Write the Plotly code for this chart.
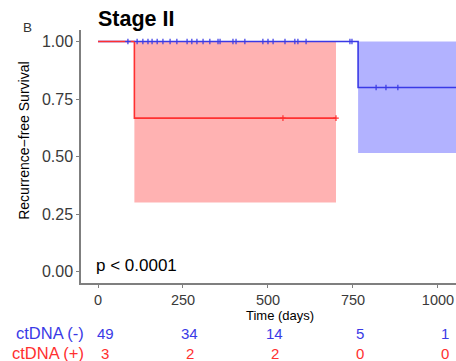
import plotly.graph_objects as go

# ---- data ----
neg_times = [0, 765, 1060]
neg_surv = [1.0, 0.80, 0.80]
neg_lower = [1.0, 0.515, 0.515]
neg_upper = [1.0, 1.0, 1.0]
neg_censor = [88, 115, 132, 147, 159, 174, 191, 212, 232, 262, 276, 291, 309, 329,
              353, 359, 397, 406, 432, 485, 500, 515, 550, 579, 588, 612, 741, 747,
              818, 847, 882]

pos_times = [0, 107, 700]
pos_surv = [1.0, 0.667, 0.667]
pos_lower = [1.0, 0.30, 0.30]
pos_upper = [1.0, 1.0, 1.0]
pos_censor = [544, 700]

risk_times = [0, 250, 500, 750, 1000]
risk_neg = [49, 34, 14, 5, 1]
risk_pos = [3, 2, 2, 0, 0]
x_ticks = [0, 250, 500, 750, 1000]
y_ticks = [0.0, 0.25, 0.50, 0.75, 1.00]
y_ticklabels = ["0.00", "0.25", "0.50", "0.75", "1.00"]

BLUE = "#3a3ae6"
RED = "#ff3030"
BLUE_FILL = "rgba(0,0,255,0.3)"
RED_FILL = "rgba(255,0,0,0.3)"
FONT = "Liberation Sans, Arial, sans-serif"
TICKC = "#3a3a3a"


def step_xy(t, v):
    xs, ys = [], []
    for i in range(len(t)):
        if i > 0:
            xs.append(t[i]); ys.append(v[i - 1])
        xs.append(t[i]); ys.append(v[i])
    return xs, ys


def band(t, lo, hi):
    xu, yu = step_xy(t, hi)
    xl, yl = step_xy(t, lo)
    return xu + xl[::-1], yu + yl[::-1]


def surv_at(t, times, surv):
    s = surv[0]
    for ti, si in zip(times, surv):
        if t >= ti:
            s = si
    return s


fig = go.Figure()

for t, lo, hi, fc in [(neg_times, neg_lower, neg_upper, BLUE_FILL),
                      (pos_times, pos_lower, pos_upper, RED_FILL)]:
    bx, by = band(t, lo, hi)
    fig.add_trace(go.Scatter(x=bx, y=by, fill="toself", fillcolor=fc,
                             line=dict(width=0), mode="lines", hoverinfo="skip",
                             showlegend=False))

fig.add_trace(go.Scatter(x=neg_times, y=neg_surv, mode="lines", line_shape="hv",
                         line=dict(color=BLUE, width=1.6), showlegend=False))
fig.add_trace(go.Scatter(x=pos_times, y=pos_surv, mode="lines", line_shape="hv",
                         line=dict(color=RED, width=1.6), showlegend=False))

fig.add_trace(go.Scatter(x=neg_censor, y=[surv_at(c, neg_times, neg_surv) for c in neg_censor],
                         mode="markers", marker=dict(symbol="cross-thin-open", size=4, color=BLUE,
                                                     line=dict(color=BLUE, width=1.2)),
                         showlegend=False))
fig.add_trace(go.Scatter(x=pos_censor, y=[surv_at(c, pos_times, pos_surv) for c in pos_censor],
                         mode="markers", marker=dict(symbol="cross-thin-open", size=4, color=RED,
                                                     line=dict(color=RED, width=1.2)),
                         showlegend=False))

W, H = 456, 361
L, R, T, B = 81, 0, 30, 77.5
pw, ph = W - L - R, H - T - B


def px_ann(text, xpx, ypx, size, color="black", family=FONT, xanchor="center", angle=0):
    return dict(text=text, x=(xpx - L) / pw, y=1 - (ypx - T) / ph, xref="paper", yref="paper",
                xanchor=xanchor, yanchor="middle", showarrow=False, textangle=angle,
                font=dict(family=family, size=size, color=color))


annotations = [
    px_ann("<b>Stage II</b>", 96, 19, 21.5, family="Liberation Sans Narrow, Arial Narrow, Liberation Sans, sans-serif",
           xanchor="left"),
    px_ann("B", 27, 27, 13.5, color="#333"),
    px_ann("Recurrence−free Survival", 24, 141, 14, angle=-90),
    px_ann("Time (days)", 280, 316, 13),
    px_ann("p < 0.0001", 94, 266, 17, xanchor="left"),
    px_ann("ctDNA (-)", 86, 334, 16.5, color=BLUE, xanchor="right"),
    px_ann("ctDNA (+)", 86, 354, 16.5, color=RED, xanchor="right"),
]

for t, n in zip(risk_times, risk_neg):
    annotations.append(dict(text=str(n), x=t, xref="x", y=1 - (334 - T) / ph, yref="paper",
                            xshift=7, showarrow=False, yanchor="middle",
                            font=dict(family=FONT, size=15, color=BLUE)))
for t, n in zip(risk_times, risk_pos):
    annotations.append(dict(text=str(n), x=t, xref="x", y=1 - (354 - T) / ph, yref="paper",
                            xshift=7, showarrow=False, yanchor="middle",
                            font=dict(family=FONT, size=15, color=RED)))

fig.update_layout(
    width=W, height=H,
    margin=dict(l=L, r=R, t=T, b=B, pad=0),
    plot_bgcolor="white", paper_bgcolor="white",
    annotations=annotations,
    xaxis=dict(range=[-50, 1053], tickvals=x_ticks, ticktext=[str(v) for v in x_ticks],
               showline=True, linecolor="#7f7f7f", linewidth=1.5, ticks="outside",
               ticklen=3, tickcolor="#7f7f7f", showgrid=False, zeroline=False,
               tickfont=dict(family=FONT, size=14.5, color=TICKC)),
    yaxis=dict(range=[-0.05, 1.05], tickvals=y_ticks, ticktext=y_ticklabels,
               showline=True, linecolor="#7f7f7f", linewidth=1.5, ticks="outside",
               ticklen=3, tickcolor="#7f7f7f", showgrid=False, zeroline=False,
               tickfont=dict(family=FONT, size=16, color=TICKC)),
)

fig.write_html("out.html")
